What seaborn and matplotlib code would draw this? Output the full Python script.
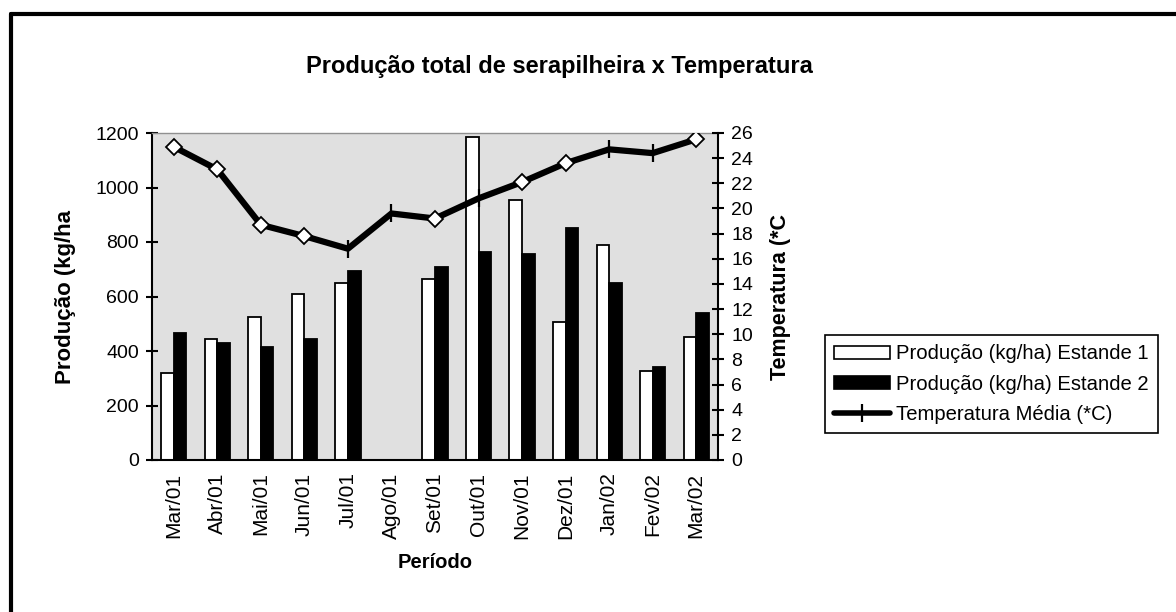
import matplotlib
matplotlib.use("Agg")
import matplotlib.pyplot as plt
import seaborn as sns
import pandas as pd
import numpy as np
from matplotlib.lines import Line2D
from matplotlib.patches import Patch

# ---- data ----
periodos = ["Mar/01", "Abr/01", "Mai/01", "Jun/01", "Jul/01", "Ago/01", "Set/01",
            "Out/01", "Nov/01", "Dez/01", "Jan/02", "Fev/02", "Mar/02"]
estande1 = [320, 445, 525, 608, 650, np.nan, 665, 1185, 955, 505, 790, 325, 450]
estande2 = [465, 430, 415, 445, 695, np.nan, 710, 762, 755, 850, 650, 340, 540]
temperatura = [24.9, 23.1, 18.7, 17.8, 16.8, 19.6, 19.2, 20.8, 22.1, 23.6, 24.7, 24.4, 25.5]
yticks_left = [0, 200, 400, 600, 800, 1000, 1200]
yticks_right = list(range(0, 27, 2))

serie1 = "Produção (kg/ha) Estande 1"
serie2 = "Produção (kg/ha) Estande 2"
serie_t = "Temperatura Média (*C)"

# marker kind for each temperature point (style)
marker_kind = ["D", "D", "D", "D", "+", "+", "D", "+", "D", "D", "+", "+", "D"]

sns.set_theme(style="white")
plt.rcParams["font.family"] = ["Liberation Sans", "DejaVu Sans"]
plt.rcParams["text.color"] = "black"
plt.rcParams["axes.labelcolor"] = "black"
plt.rcParams["xtick.color"] = "black"
plt.rcParams["ytick.color"] = "black"

df = pd.DataFrame({
    "Período": periodos * 2,
    "valor": estande1 + estande2,
    "serie": [serie1] * len(periodos) + [serie2] * len(periodos),
})

fig = plt.figure(figsize=(11.76, 6.12), dpi=100)
ax = fig.add_axes([152 / 1176, 1 - 460 / 612, (718 - 152) / 1176, (460 - 133) / 612])
ax.set_facecolor("#E0E0E0")

sns.barplot(data=df, x="Período", y="valor", hue="serie", order=periodos,
            hue_order=[serie1, serie2], palette=["white", "black"],
            width=0.58, edgecolor="black", linewidth=1.3, saturation=1,
            legend=False, ax=ax, gap=0)

ax.set_ylim(0, 1200)
ax.set_xlim(-0.5, len(periodos) - 0.5)
ax.set_yticks(yticks_left)
ax.set_yticklabels([str(v) for v in yticks_left], fontsize=14)
ax.set_xticks(range(len(periodos)))
ax.set_xticklabels(periodos, rotation=90, fontsize=15)
ax.set_xticks(np.arange(-0.5, len(periodos), 1.0), minor=True)
ax.tick_params(axis="x", which="major", length=0, pad=9)
ax.tick_params(axis="x", which="minor", length=9, width=1.5, direction="inout")
ax.tick_params(axis="y", which="major", length=9, width=1.5, direction="inout", pad=5)
ax.set_xlabel("Período", fontsize=14.5, fontweight="bold", labelpad=10)
ax.set_ylabel("Produção (kg/ha", fontsize=16, fontweight="bold", labelpad=14)
for s in ["left", "bottom"]:
    ax.spines[s].set_color("black")
    ax.spines[s].set_linewidth(1.5)
ax.spines["top"].set_color("#909090")
ax.spines["top"].set_linewidth(1.0)
ax.spines["right"].set_visible(False)

ax2 = ax.twinx()
xs = np.arange(len(periodos))
tdf = pd.DataFrame({"x": xs, "t": temperatura, "m": marker_kind})
sns.lineplot(data=tdf, x="x", y="t", color="black", linewidth=4.5, sort=False, ax=ax2, zorder=3)
d = tdf[tdf["m"] == "D"]
p = tdf[tdf["m"] == "+"]
ax2.plot(d["x"], d["t"], linestyle="none", marker="D", markersize=8.5,
         markerfacecolor="white", markeredgecolor="black", markeredgewidth=1.3, zorder=4)
ax2.plot(p["x"], p["t"], linestyle="none", marker="|", markersize=13,
         color="black", markeredgewidth=1.6, zorder=4)
ax2.set_ylim(0, 26)
ax2.set_xlim(-0.5, len(periodos) - 0.5)
ax2.set_yticks(yticks_right)
ax2.set_yticklabels([str(v) for v in yticks_right], fontsize=14)
ax2.tick_params(axis="y", length=9, width=1.5, direction="inout", pad=5)
ax2.set_ylabel("Temperatura (*C", fontsize=15.5, fontweight="bold", labelpad=12)
ax2.set_xlabel("")
for s in ["left", "bottom", "top"]:
    ax2.spines[s].set_visible(False)
ax2.spines["right"].set_color("black")
ax2.spines["right"].set_linewidth(1.5)

fig.text(559 / 1176, 1 - 66 / 612, "Produção total de serapilheira x Temperatura",
         ha="center", va="center", fontsize=17, fontweight="bold")

handles = [
    Patch(facecolor="white", edgecolor="black", linewidth=1.2),
    Patch(facecolor="black", edgecolor="black", linewidth=1.2),
    Line2D([0], [0], color="black", linewidth=4, marker="|", markersize=13, markeredgewidth=1.6),
]
leg = fig.legend(handles, [serie1, serie2, serie_t], loc="center left",
                 bbox_to_anchor=(825 / 1176, 1 - 384 / 612), fontsize=14.6,
                 frameon=True, fancybox=False, edgecolor="black", framealpha=1,
                 handlelength=2.75, handleheight=0.6, handletextpad=0.3,
                 borderpad=0.45, labelspacing=0.55, borderaxespad=0)
leg.get_frame().set_linewidth(1.2)

# outer frame (top and left edges only)
fig.add_artist(Line2D([11 / 1176, 11 / 1176], [0, 1 - 14 / 612], color="black", linewidth=3,
                      transform=fig.transFigure))
fig.add_artist(Line2D([11 / 1176, 1], [1 - 14 / 612, 1 - 14 / 612], color="black", linewidth=3,
                      transform=fig.transFigure))

fig.savefig("out.png", dpi=100)
